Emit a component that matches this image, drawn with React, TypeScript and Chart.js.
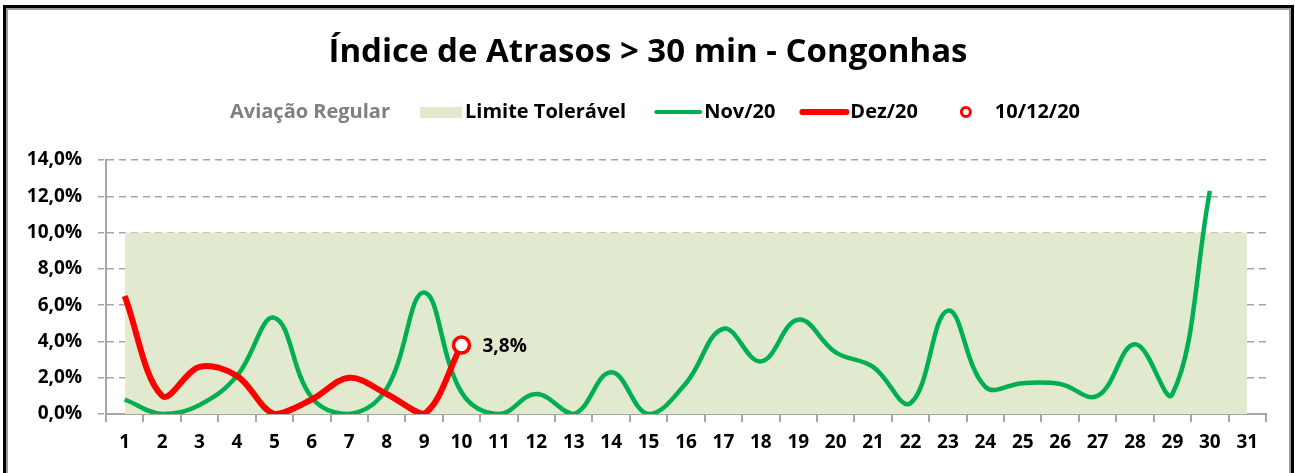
import React, { useEffect, useRef } from "react";
import { Chart, registerables } from "chart.js";

Chart.register(...registerables);

const FONT = "'Open Sans', Lato, sans-serif";

const chartTitle = "Índice de Atrasos > 30 min - Congonhas";
const legendHeader = "Aviação Regular";

const days = [
  "1", "2", "3", "4", "5", "6", "7", "8", "9", "10",
  "11", "12", "13", "14", "15", "16", "17", "18", "19", "20",
  "21", "22", "23", "24", "25", "26", "27", "28", "29", "30", "31",
];

const limiteToleravel = [
  10, 10, 10, 10, 10, 10, 10, 10, 10, 10,
  10, 10, 10, 10, 10, 10, 10, 10, 10, 10,
  10, 10, 10, 10, 10, 10, 10, 10, 10, 10, 10,
];

const nov20 = [
  0.8, 0.0, 0.5, 2.1, 5.3, 0.9, 0.0, 1.4, 6.7, 1.2,
  0.0, 1.1, 0.0, 2.3, 0.0, 1.7, 4.7, 2.9, 5.2, 3.4,
  2.6, 0.6, 5.7, 1.5, 1.7, 1.65, 1.0, 3.85, 1.1, 12.3, null,
];

const dez20 = [6.5, 1.0, 2.6, 2.1, 0.0, 0.8, 2.0, 1.1, 0.0, 3.8];

const destaque101220 = [null, null, null, null, null, null, null, null, null, 3.8];

const yMin = 0;
const yMax = 14;
const yStep = 2;

const fmtPct = (v: number) => v.toFixed(1).replace(".", ",") + "%";

const titleLegendPlugin = {
  id: "titleLegend",
  afterDraw(chart: any) {
    const ctx = chart.ctx as CanvasRenderingContext2D;
    ctx.save();
    // Title
    ctx.font = `bold 33px ${FONT}`;
    ctx.fillStyle = "#000";
    ctx.textAlign = "center";
    ctx.textBaseline = "alphabetic";
    ctx.fillText(chartTitle, 648, 62);

    // Legend
    ctx.font = `bold 20px ${FONT}`;
    ctx.textAlign = "left";
    ctx.textBaseline = "middle";
    const ds = chart.data.datasets;
    const items: any[] = [
      { kind: "header", text: legendHeader, color: "#808080" },
      { kind: "box", text: ds[0].label, color: ds[0].backgroundColor },
      { kind: "line", text: ds[1].label, color: ds[1].borderColor, lw: 4 },
      { kind: "line", text: ds[2].label, color: ds[2].borderColor, lw: 6 },
      { kind: "circle", text: ds[3].label, color: ds[3].pointBorderColor },
    ];
    const symW: Record<string, number> = { header: 0, box: 45, line: 50, circle: 34 };
    const gapAfter = [30, 28, 25, 43, 0];
    let total = 0;
    items.forEach((it, i) => {
      it.w = symW[it.kind] + ctx.measureText(it.text).width;
      total += it.w + gapAfter[i];
    });
    let x = 655 - total / 2;
    const y = 112;
    items.forEach((it, i) => {
      if (it.kind === "box") {
        ctx.fillStyle = it.color;
        ctx.fillRect(x, y - 5, 42, 11);
      } else if (it.kind === "line") {
        ctx.strokeStyle = it.color;
        ctx.lineWidth = it.lw;
        ctx.lineCap = "round";
        ctx.beginPath();
        ctx.moveTo(x + 2, y);
        ctx.lineTo(x + 46, y);
        ctx.stroke();
      } else if (it.kind === "circle") {
        ctx.strokeStyle = it.color;
        ctx.fillStyle = "#fff";
        ctx.lineWidth = 3;
        ctx.beginPath();
        ctx.arc(x + 5, y, 4.5, 0, Math.PI * 2);
        ctx.fill();
        ctx.stroke();
      }
      ctx.fillStyle = it.kind === "header" ? it.color : "#000";
      ctx.fillText(it.text, x + symW[it.kind], y);
      x += it.w + gapAfter[i];
    });

    // Data label for highlighted point
    const meta = chart.getDatasetMeta(3);
    meta.data.forEach((pt: any, idx: number) => {
      const v = chart.data.datasets[3].data[idx];
      if (v == null) return;
      ctx.fillStyle = "#000";
      ctx.font = `bold 19px ${FONT}`;
      ctx.textAlign = "left";
      ctx.textBaseline = "middle";
      ctx.fillText(fmtPct(v), pt.x + 21, pt.y + 2);
    });
    ctx.restore();
  },
};

export default function App() {
  const canvasRef = useRef<HTMLCanvasElement | null>(null);

  useEffect(() => {
    if (!canvasRef.current) return;
    const chart = new Chart(canvasRef.current, {
      type: "line",
      data: {
        labels: days,
        datasets: [
          {
            label: "Limite Tolerável",
            data: limiteToleravel,
            backgroundColor: "#E1E9CE",
            borderColor: "rgba(0,0,0,0)",
            borderWidth: 0,
            pointRadius: 0,
            fill: "origin",
            tension: 0,
            order: 3,
          },
          {
            label: "Nov/20",
            data: nov20,
            borderColor: "#00B050",
            backgroundColor: "#00B050",
            borderWidth: 4.5,
            pointRadius: 0,
            fill: false,
            tension: 0.4,
            order: 2,
          },
          {
            label: "Dez/20",
            data: dez20,
            borderColor: "#FF0000",
            backgroundColor: "#FF0000",
            borderWidth: 6,
            pointRadius: 0,
            fill: false,
            tension: 0.35,
            order: 1,
          },
          {
            label: "10/12/20",
            data: destaque101220,
            showLine: false,
            pointRadius: 8,
            pointBorderWidth: 3.5,
            pointBackgroundColor: "#FFFFFF",
            pointBorderColor: "#FF0000",
            fill: false,
            order: 0,
          },
        ],
      },
      options: {
        responsive: false,
        animation: false,
        layout: { padding: { top: 160, right: 29, left: 0, bottom: 0 } },
        plugins: {
          legend: { display: false },
          title: { display: false },
          tooltip: { enabled: false },
        },
        scales: {
          x: {
            offset: true,
            grid: {
              offset: true,
              drawOnChartArea: false,
              drawTicks: true,
              tickLength: 8,
              color: "#A6A6A6",
              lineWidth: 2,
            },
            border: { display: true, color: "#A6A6A6", width: 2 },
            ticks: {
              color: "#000",
              font: { family: FONT, size: 19, weight: "bold" },
              padding: 9,
              maxRotation: 0,
              autoSkip: false,
            },
            afterFit: (scale: any) => {
              scale.height = 59;
            },
          },
          y: {
            min: yMin,
            max: yMax,
            grid: {
              color: "#A6A6A6",
              lineWidth: 1.5,
              tickLength: 8,
              drawTicks: true,
              tickBorderDash: [6, 5],
            },
            border: { display: true, color: "#A6A6A6", width: 2, dash: [7, 5] },
            ticks: {
              stepSize: yStep,
              color: "#000",
              font: { family: FONT, size: 19, weight: "bold" },
              padding: 16,
              callback: (v: any) => fmtPct(Number(v)),
            },
            afterFit: (scale: any) => {
              scale.width = 106;
            },
          },
        },
      },
      plugins: [titleLegendPlugin],
    } as any);
    return () => chart.destroy();
  }, []);

  return (
    <div
      style={{
        position: "fixed",
        left: 0,
        top: 0,
        width: 1295,
        height: 473,
        overflow: "hidden",
        background: "#fff",
      }}
    >
      <canvas ref={canvasRef} width={1295} height={473} style={{ display: "block" }} />
      <div
        style={{
          position: "absolute",
          left: 3,
          top: 5,
          width: 1291,
          height: 480,
          boxSizing: "border-box",
          border: "3px solid #000",
          boxShadow: "inset 0 0 0 2px #9a9a9a",
          pointerEvents: "none",
        }}
      />
    </div>
  );
}
